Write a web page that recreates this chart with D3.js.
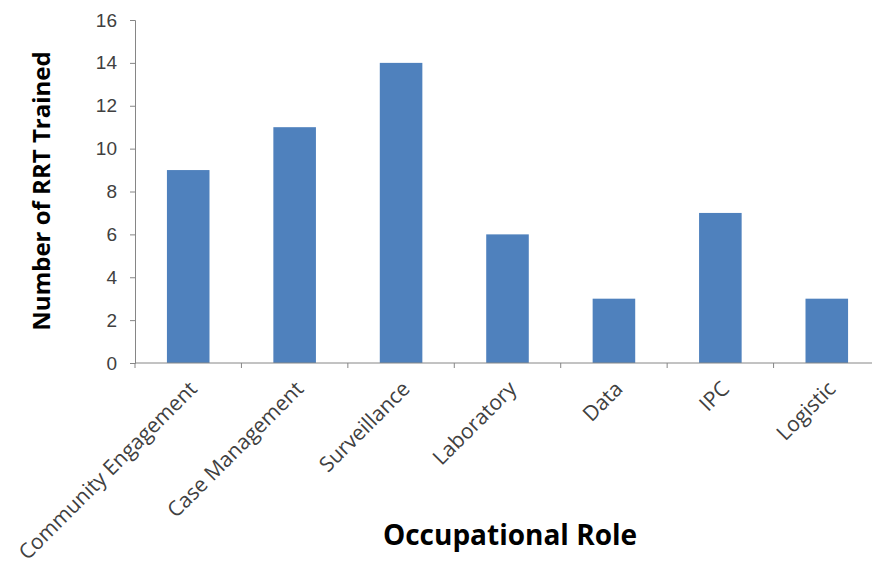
<!DOCTYPE html>
<html>
<head>
<meta charset="utf-8">
<style>
  body { margin: 0; background: #fff; }
  svg { display: block; font-family: "Open Sans", sans-serif; }
</style>
</head>
<body>
<svg width="872" height="567"></svg>
<script src="https://cdn.jsdelivr.net/npm/d3@7"></script>
<script>
// chart data
var roles = ["Community Engagement", "Case Management", "Surveillance", "Laboratory", "Data", "IPC", "Logistic"];
var trained = [9, 11, 14, 6, 3, 7, 3];
var yTicks = [0, 2, 4, 6, 8, 10, 12, 14, 16];

var svg = d3.select("svg");

var x = d3.scaleBand()
    .domain(roles)
    .range([135, 880])
    .paddingInner(0.6)
    .paddingOuter(0.3);

var y = d3.scaleLinear()
    .domain([0, 16])
    .range([363, 20]);

// bars
svg.append("g")
  .selectAll("rect")
  .data(roles)
  .enter().append("rect")
    .attr("x", function(d) { return x(d); })
    .attr("y", function(d, i) { return y(trained[i]); })
    .attr("width", x.bandwidth())
    .attr("height", function(d, i) { return y(0) - y(trained[i]); })
    .attr("fill", "#4f81bd");

// y axis
var yAxis = svg.append("g")
    .attr("transform", "translate(135,0)")
    .call(d3.axisLeft(y).tickValues(yTicks).tickSize(5).tickPadding(13));
yAxis.select(".domain").attr("stroke", "#868686");
yAxis.selectAll(".tick line").attr("stroke", "#868686");
yAxis.selectAll("text")
    .attr("fill", "#404040")
    .style("font-size", "19px");

// x axis, ticks between categories
var step = x.step();
var xTicks = d3.range(roles.length + 1).map(function(i) { return 135 + i * step; });
svg.append("line")
    .attr("x1", 135).attr("x2", 872)
    .attr("y1", y(0)).attr("y2", y(0))
    .attr("stroke", "#868686");
svg.append("g").selectAll("line")
  .data(xTicks)
  .enter().append("line")
    .attr("x1", function(d) { return d; })
    .attr("x2", function(d) { return d; })
    .attr("y1", y(0)).attr("y2", y(0) + 5)
    .attr("stroke", "#868686");

svg.append("g").selectAll("text")
  .data(roles)
  .enter().append("text")
    .attr("transform", function(d) {
      return "translate(" + (x(d) + x.bandwidth() / 2 - 1) + "," + (y(0) + 16) + ") rotate(-45)";
    })
    .attr("text-anchor", "end")
    .attr("dy", "0.75em")
    .attr("fill", "#404040")
    .style("font-size", "21px")
    .text(function(d) { return d; });

// axis titles
svg.append("text")
    .attr("x", 510).attr("y", 545)
    .attr("text-anchor", "middle")
    .attr("fill", "#000")
    .style("font-size", "28px")
    .style("font-weight", "bold")
    .text("Occupational Role");

svg.append("text")
    .attr("transform", "translate(50,191) rotate(-90)")
    .attr("text-anchor", "middle")
    .attr("fill", "#000")
    .style("font-size", "24px")
    .style("font-weight", "bold")
    .text("Number of RRT Trained");
</script>
</body>
</html>
